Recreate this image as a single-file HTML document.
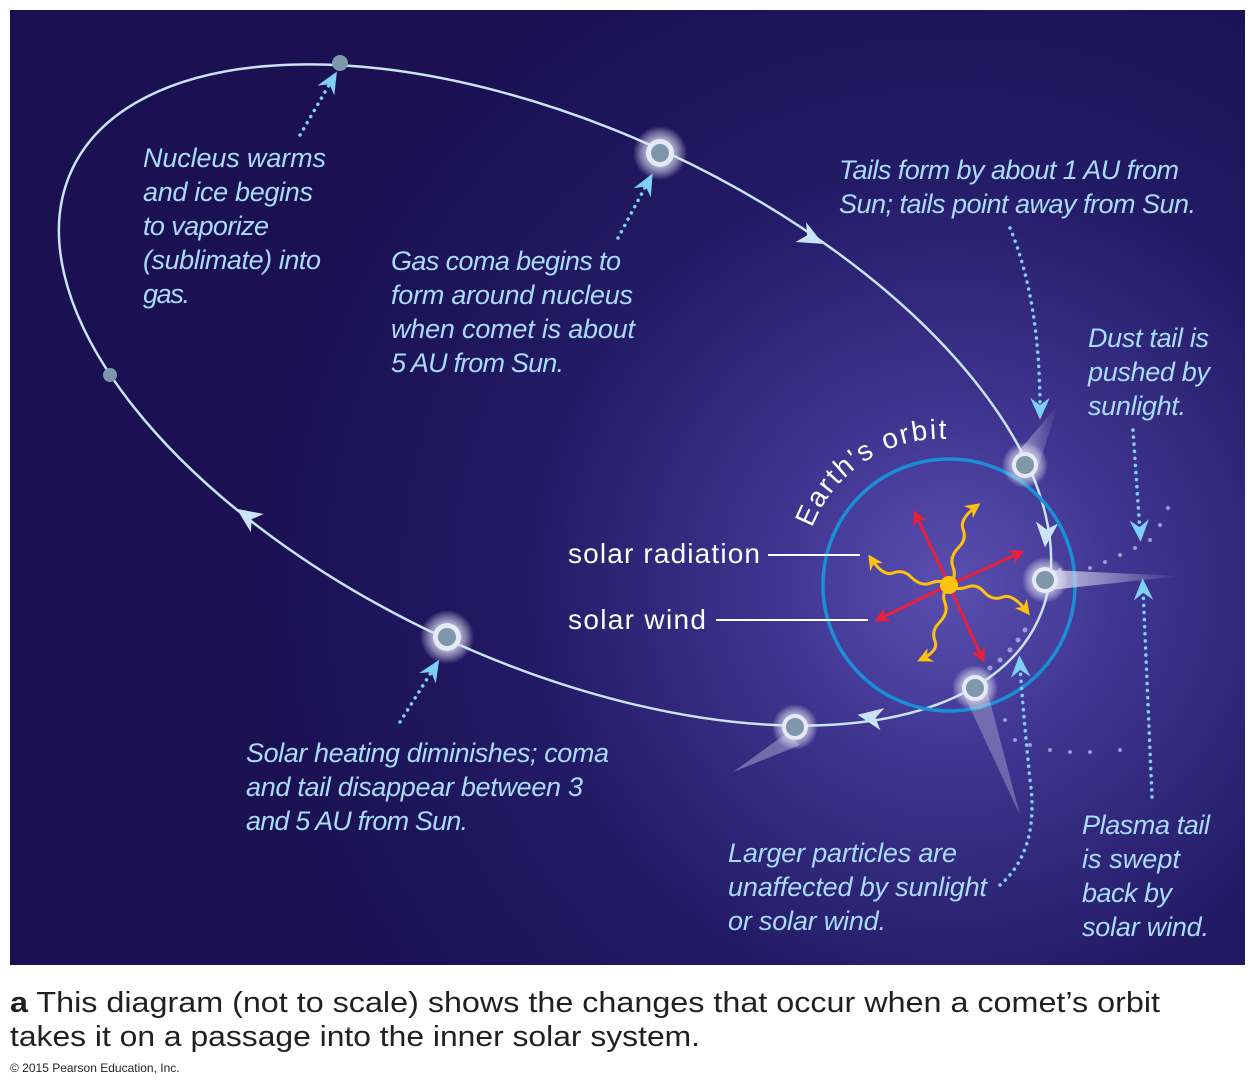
<!DOCTYPE html>
<html><head><meta charset="utf-8"><style>
html,body{margin:0;padding:0;background:#fff;width:1255px;height:1088px;overflow:hidden}
svg{display:block}
.b{font-family:"Liberation Sans",sans-serif;font-style:italic;fill:#a8dcf7;font-size:27px}
.w{font-family:"Liberation Sans",sans-serif;fill:#fff;font-size:28px}
.c{font-family:"Liberation Sans",sans-serif;fill:#231f20;font-size:29px}
</style></head><body>
<svg width="1255" height="1088" viewBox="0 0 1255 1088" xmlns="http://www.w3.org/2000/svg">
<defs>
<radialGradient id="bg" cx="950" cy="585" r="700" gradientUnits="userSpaceOnUse">
<stop offset="0" stop-color="#5a4fb0"/><stop offset="0.25" stop-color="#3f3590"/><stop offset="0.6" stop-color="#231a66"/><stop offset="1" stop-color="#1a1052"/>
</radialGradient>
<radialGradient id="glow"><stop offset="0" stop-color="#fff" stop-opacity="0.95"/><stop offset="0.55" stop-color="#d8def2" stop-opacity="0.7"/><stop offset="1" stop-color="#fff" stop-opacity="0"/></radialGradient>
<linearGradient id="tail" x1="0" y1="0" x2="1" y2="0"><stop offset="0" stop-color="#dde" stop-opacity="0.8"/><stop offset="1" stop-color="#dde" stop-opacity="0"/></linearGradient>
<marker id="ah" viewBox="0 0 10 10" refX="5" refY="5" markerWidth="7" markerHeight="7" orient="auto"><path d="M0,1 L9,5 L0,9 L3,5z" fill="#7fd0f5"/></marker>
<marker id="ar" viewBox="0 0 10 10" refX="8" refY="5" markerWidth="5" markerHeight="5" orient="auto"><path d="M0,0 L10,5 L0,10 L3,5z" fill="#e8203c"/></marker>
<marker id="ay" viewBox="0 0 10 10" refX="8" refY="5" markerWidth="5" markerHeight="5" orient="auto"><path d="M0,0 L10,5 L0,10 L3,5z" fill="#ffc20e"/></marker>
<path id="arc" d="M812,528 A138,138 0 0 1 985,446"/>
<path id="oa" d="M9,0 L-9,-8 L-4,0 L-9,8 z" fill="#c8e4f5"/>
</defs>
<rect x="10" y="10" width="1235" height="955" fill="url(#bg)"/>
<ellipse cx="555" cy="395" rx="533" ry="267" transform="rotate(25 555 395)" fill="none" stroke="#c8e4f5" stroke-width="2.5"/>
<use href="#oa" transform="translate(812,238) rotate(28) scale(1.4)"/>
<use href="#oa" transform="translate(247,516) rotate(215) scale(1.4)"/>
<use href="#oa" transform="translate(870,717) rotate(190) scale(1.4)"/>
<use href="#oa" transform="translate(1046,535) rotate(95) scale(1.4)"/>
<circle cx="949" cy="585" r="126" fill="none" stroke="#1a8fd6" stroke-width="3.5"/>
<text class="w"><textPath href="#arc" textLength="172">Earth's orbit</textPath></text>
<path d="M1018,452 L1058,405 L1038,468z" fill="url(#tail)" opacity="0.7"/>
<path d="M1050,570 L1180,576 L1050,590z" fill="url(#tail)"/>
<path d="M965,697 L1020,815 L987,690z" fill="#c8cfe6" opacity="0.35"/>
<path d="M787,733 L733,772 L800,745z" fill="#c8cfe6" opacity="0.4"/>
<g fill="#a9b7e6" opacity="0.8">
<circle cx="1060" cy="570" r="2"/><circle cx="1075" cy="575" r="2"/><circle cx="1090" cy="568" r="2"/><circle cx="1105" cy="562" r="2"/><circle cx="1120" cy="555" r="2"/><circle cx="1135" cy="548" r="2"/><circle cx="1150" cy="540" r="2"/><circle cx="1160" cy="525" r="2"/><circle cx="1168" cy="508" r="2"/>
<circle cx="990" cy="668" r="2.5"/><circle cx="1000" cy="660" r="2.5"/><circle cx="1010" cy="650" r="2.5"/><circle cx="1018" cy="640" r="2.5"/><circle cx="1025" cy="630" r="2.5"/>
<circle cx="1005" cy="720" r="2"/><circle cx="1015" cy="740" r="2"/><circle cx="1030" cy="745" r="2"/><circle cx="1050" cy="750" r="2"/><circle cx="1070" cy="752" r="2"/><circle cx="1090" cy="752" r="2"/><circle cx="1120" cy="750" r="2"/>
</g>
<g fill="url(#glow)">
<circle cx="660" cy="153" r="27"/><circle cx="447" cy="637" r="27"/><circle cx="795" cy="727" r="23"/>
<circle cx="1025" cy="465" r="23"/><circle cx="1045" cy="580" r="23"/><circle cx="975" cy="688" r="23"/>
</g>
<g fill="#e6eaf5">
<circle cx="660" cy="153" r="14"/><circle cx="447" cy="637" r="14"/><circle cx="795" cy="727" r="13"/><circle cx="1025" cy="465" r="13"/><circle cx="1045" cy="580" r="13"/><circle cx="975" cy="688" r="13"/>
</g>
<g fill="#7f97ab">
<circle cx="340" cy="63" r="8"/><circle cx="110" cy="375" r="7"/><circle cx="660" cy="153" r="9"/><circle cx="447" cy="637" r="9"/><circle cx="795" cy="727" r="9"/><circle cx="1025" cy="465" r="9"/><circle cx="1045" cy="580" r="9"/><circle cx="975" cy="688" r="9"/>
</g>
<g stroke="#e8203c" stroke-width="3" marker-end="url(#ar)">
<line x1="949" y1="585" x2="915" y2="513"/><line x1="949" y1="585" x2="1022" y2="552"/><line x1="949" y1="585" x2="877" y2="620"/><line x1="949" y1="585" x2="983" y2="660"/>
</g>
<g stroke="#ffc20e" stroke-width="3" fill="none" marker-end="url(#ay)">
<path d="M949,585 q8,-8 4,-18 q-4,-10 6,-20 q8,-8 4,-18 q-4,-10 15,-24"/>
<path d="M949,585 q-8,-6 -18,-2 q-10,4 -20,-6 q-8,-8 -18,-4 q-10,4 -23,-16"/>
<path d="M949,585 q8,6 18,2 q10,-4 18,6 q8,8 18,4 q10,-4 25,16"/>
<path d="M949,585 q-8,8 -4,18 q4,10 -6,20 q-8,8 -4,18 q4,10 -15,19"/>
</g>
<circle cx="949" cy="585" r="9" fill="#ffc20e"/>
<line x1="768" y1="555" x2="860" y2="555" stroke="#fff" stroke-width="2"/>
<line x1="716" y1="620" x2="868" y2="620" stroke="#fff" stroke-width="2"/>
<text class="w" x="568" y="563" textLength="192">solar radiation</text>
<text class="w" x="568" y="629" textLength="138">solar wind</text>
<g stroke="#7fd0f5" stroke-width="3.5" stroke-dasharray="0.1 7" stroke-linecap="round" fill="none" marker-end="url(#ah)">
<path d="M300,135 L332,80"/><path d="M618,238 L648,182"/><path d="M400,722 L434,668"/>
<path d="M1010,228 Q1040,300 1040,410"/><path d="M1133,430 L1140,532"/><path d="M1152,797 L1143,588"/><path d="M1000,885 Q1040,850 1030,780 Q1022,700 1020,665"/>
</g>
<text class="b" x="143" y="167" textLength="183">Nucleus warms</text>
<text class="b" x="143" y="201" textLength="170">and ice begins</text>
<text class="b" x="143" y="235" textLength="126">to vaporize</text>
<text class="b" x="143" y="269" textLength="178">(sublimate) into</text>
<text class="b" x="143" y="303" textLength="47">gas.</text>
<text class="b" x="391" y="270" textLength="230">Gas coma begins to</text>
<text class="b" x="391" y="304" textLength="242">form around nucleus</text>
<text class="b" x="391" y="338" textLength="244">when comet is about</text>
<text class="b" x="391" y="372" textLength="173">5 AU from Sun.</text>
<text class="b" x="839" y="179" textLength="340">Tails form by about 1 AU from</text>
<text class="b" x="839" y="213" textLength="357">Sun; tails point away from Sun.</text>
<text class="b" x="1088" y="347" textLength="121">Dust tail is</text>
<text class="b" x="1088" y="381" textLength="122">pushed by</text>
<text class="b" x="1088" y="415" textLength="98">sunlight.</text>
<text class="b" x="246" y="762" textLength="363">Solar heating diminishes; coma</text>
<text class="b" x="246" y="796" textLength="337">and tail disappear between 3</text>
<text class="b" x="246" y="830" textLength="222">and 5 AU from Sun.</text>
<text class="b" x="728" y="862" textLength="229">Larger particles are</text>
<text class="b" x="728" y="896" textLength="259">unaffected by sunlight</text>
<text class="b" x="728" y="930" textLength="158">or solar wind.</text>
<text class="b" x="1082" y="834" textLength="128">Plasma tail</text>
<text class="b" x="1082" y="868" textLength="98">is swept</text>
<text class="b" x="1082" y="902" textLength="90">back by</text>
<text class="b" x="1082" y="936" textLength="127">solar wind.</text>
<text class="c" x="10" y="1012" textLength="1150" lengthAdjust="spacingAndGlyphs"><tspan font-weight="bold">a</tspan>  This diagram (not to scale) shows the changes that occur when a comet’s orbit</text>
<text class="c" x="10" y="1046" textLength="690" lengthAdjust="spacingAndGlyphs">takes it on a passage into the inner solar system.</text>
<text x="10" y="1072" font-family="Liberation Sans, sans-serif" font-size="12" fill="#231f20">© 2015 Pearson Education, Inc.</text>
</svg>
</body></html>
